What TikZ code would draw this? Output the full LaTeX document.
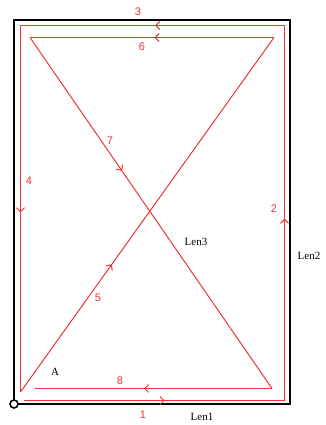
\documentclass[tikz,border=0pt]{standalone}
\usepackage{fontspec}
\setmainfont{Liberation Serif}
\newfontfamily\numfont{Liberation Sans}
\usetikzlibrary{arrows.meta,decorations.markings}
\definecolor{pathred}{RGB}{240,50,50}
\tikzset{
  frame/.style={draw=black,line width=2.2pt},
  route/.style={draw=pathred,line width=1pt},
  midarrow/.style={postaction={decorate},decoration={markings,
     mark=at position #1 with {\arrow[pathred]{Straight Barb[length=4pt,width=8pt,line width=1pt]}}}},
  numlabel/.style={text=pathred,font=\numfont\fontsize{11}{12}\selectfont,inner sep=0pt},
  blacklabel/.style={text=black,font=\fontsize{11}{12}\selectfont,inner sep=0pt}
}
\begin{document}
\begin{tikzpicture}[x=1pt,y=-1pt]
\useasboundingbox (0,0) rectangle (325,425);
% frame
\coordinate (F1) at (14,20);
\coordinate (F2) at (290,404);
\draw[frame] (F1) rectangle (F2);
\node[draw=black,line width=1.6pt,circle,minimum size=8pt,inner sep=0pt,fill=white] (O) at (14,404) {};
% route points
\coordinate (P0) at (24,400.5);
\coordinate (P1) at (284.5,400.5);
\coordinate (P2) at (284.5,25.5);
\coordinate (P3) at (20.5,25.5);
\coordinate (P4) at (20.5,392);
\coordinate (P5) at (274,37.5);
\coordinate (P6) at (30,37.5);
\coordinate (P7) at (272,388.5);
\coordinate (P8) at (35,388.5);
\draw[route,midarrow=0.54] (P0) -- (P1);
\draw[route,midarrow=0.485] (P1) -- (P2);
\draw[route,midarrow=0.49] (P2) -- (P3);
\draw[route,midarrow=0.51] (P3) -- (P4);
\draw[route,midarrow=0.36] (P4) -- (P5);
\draw[route,midarrow=0.49] (P5) -- (P6);
\draw[route,midarrow=0.38] (P6) -- (P7);
\draw[route,midarrow=0.54] (P7) -- (P8);
% labels
\node[numlabel] (l3) at (138,12) {3};
\node[numlabel] (l6) at (142,47) {6};
\node[numlabel] (l1) at (143,415) {1};
\node[numlabel] (l8) at (120,381) {8};
\node[numlabel] (l4) at (29,181) {4};
\node[numlabel] (l2) at (274,209) {2};
\node[numlabel] (l5) at (98,298) {5};
\node[numlabel] (l7) at (110,141) {7};
\node[blacklabel] (len1) at (202,417) {Len1};
\node[blacklabel] (len2) at (309,256) {Len2};
\node[blacklabel] (len3) at (196,242) {Len3};
\node[blacklabel] (a) at (55,372) {A};
\end{tikzpicture}
\end{document}
